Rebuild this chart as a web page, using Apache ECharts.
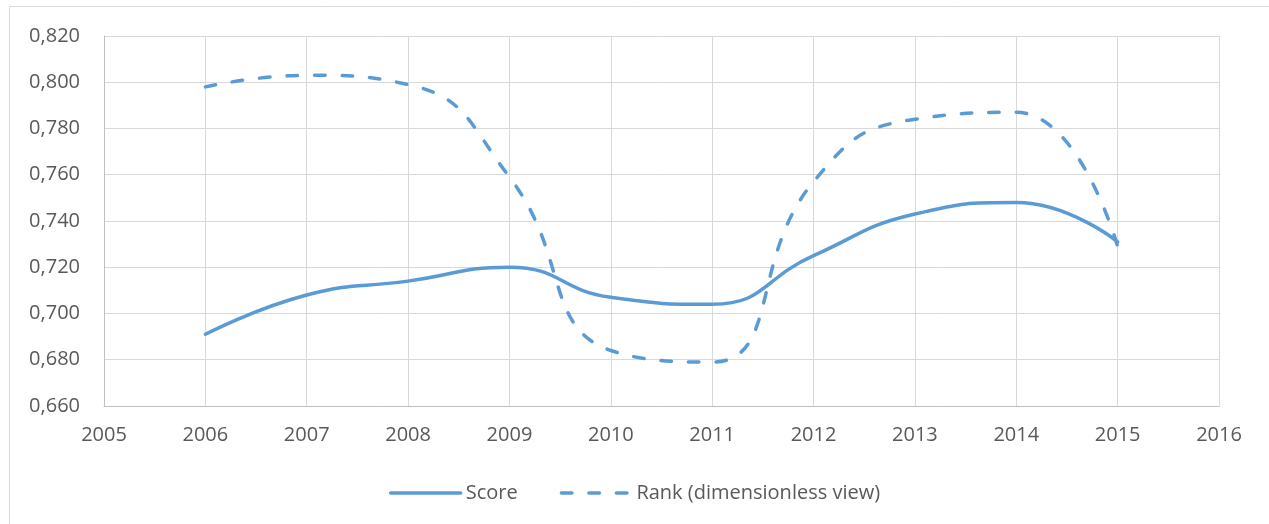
<!DOCTYPE html>
<html>
<head>
<meta charset="utf-8">
<script src="https://cdn.jsdelivr.net/npm/echarts@6/dist/echarts.min.js"></script>
<style>
  html, body { margin: 0; padding: 0; background: #fff; }
</style>
</head>
<body>
<div id="main" style="width:1269px;height:524px;"></div>
<script type="text/javascript">
    // data
    var years = [2006, 2007, 2008, 2009, 2010, 2011, 2012, 2013, 2014, 2015];
    var score = [0.691, 0.708, 0.714, 0.720, 0.707, 0.704, 0.725, 0.743, 0.748, 0.731];
    var rank = [0.798, 0.803, 0.799, 0.759, 0.684, 0.679, 0.757, 0.784, 0.787, 0.729];
    var seriesNames = ['Score', 'Rank (dimensionless view)'];

    var myChart = echarts.init(document.getElementById('main'));

    function pairs(xs, ys) {
        return xs.map(function (x, i) { return [x, ys[i]]; });
    }

    var textColor = '#595959';
    var fontFamily = 'Open Sans, Noto Sans, sans-serif';
    var blue = '#5b9bd5';
    var dash = [10.5, 17];

    var option = {
        backgroundColor: '#fff',
        animation: false,
        // outer chart border
        graphic: [{
            type: 'rect',
            shape: { x: 9.5, y: 6.5, width: 1300, height: 600 },
            style: { fill: 'none', stroke: '#d9d9d9', lineWidth: 1 },
            silent: true
        }],
        grid: {
            left: 104,
            right: 50,
            top: 36,
            bottom: 118
        },
        legend: {
            top: 478,
            left: 'center',
            itemWidth: 70,
            itemHeight: 14,
            itemGap: 42,
            itemStyle: { opacity: 0 },
            lineStyle: { width: 3.5, cap: 'round' },
            textStyle: { color: textColor, fontSize: 20, fontFamily: fontFamily },
            data: seriesNames
        },
        xAxis: {
            type: 'value',
            min: 2005,
            max: 2016,
            interval: 1,
            axisLine: { lineStyle: { color: '#bfbfbf', width: 1 } },
            axisTick: { show: false },
            splitLine: { lineStyle: { color: '#d9d9d9', width: 1 } },
            axisLabel: {
                color: textColor,
                fontSize: 20,
                fontFamily: fontFamily,
                margin: 19,
                formatter: function (v) { return String(v); }
            }
        },
        yAxis: {
            type: 'value',
            min: 0.66,
            max: 0.82,
            interval: 0.02,
            axisLine: { show: true, lineStyle: { color: '#bfbfbf', width: 1 } },
            axisTick: { show: false },
            splitLine: { lineStyle: { color: '#d9d9d9', width: 1 } },
            axisLabel: {
                color: textColor,
                fontSize: 20,
                fontFamily: fontFamily,
                margin: 24,
                formatter: function (v) { return v.toFixed(3).replace('.', ','); }
            }
        },
        series: [{
            name: seriesNames[0],
            type: 'line',
            smooth: 0.5,
            symbol: 'none',
            data: pairs(years, score),
            lineStyle: { color: blue, width: 3.5, cap: 'round' },
            itemStyle: { color: blue }
        }, {
            name: seriesNames[1],
            type: 'line',
            smooth: 0.5,
            symbol: 'none',
            data: pairs(years, rank),
            lineStyle: { color: blue, width: 3.5, type: dash, cap: 'round' },
            itemStyle: { color: blue }
        }]
    };

    myChart.setOption(option);
</script>
</body>
</html>
